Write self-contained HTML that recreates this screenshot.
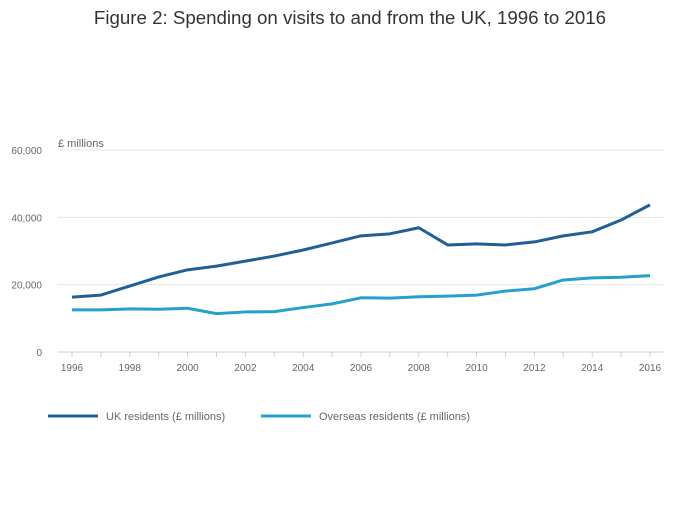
<!DOCTYPE html>
<html><head><meta charset="utf-8"><style>
body{margin:0;background:#fff;font-family:"Liberation Sans",sans-serif}
svg text{font-family:"Liberation Sans",sans-serif}
</style></head><body>
<svg width="700" height="502">
<text x="350" y="24" text-anchor="middle" font-size="18.7" fill="#333">Figure 2: Spending on visits to and from the UK, 1996 to 2016</text>
<text x="58" y="147" font-size="11" fill="#666">£ millions</text>
<g id="grid"></g><g id="xaxis"></g><g id="lines"></g>
<g>
<line x1="48" y1="416" x2="98" y2="416" stroke="#206095" stroke-width="3"/>
<text x="106" y="420" font-size="11" fill="#666">UK residents (£ millions)</text>
<line x1="261" y1="416" x2="311" y2="416" stroke="#27a0cc" stroke-width="3"/>
<text x="319" y="420" font-size="11" fill="#666">Overseas residents (£ millions)</text>
</g>
</svg>
<script>
const years=[1996,1997,1998,1999,2000,2001,2002,2003,2004,2005,2006,2007,2008,2009,2010,2011,2012,2013,2014,2015,2016];
const ukResidents=[16300,16900,19600,22300,24400,25500,27000,28500,30300,32400,34500,35100,36900,31800,32100,31800,32700,34500,35700,39200,43700];
const overseasResidents=[12500,12500,12800,12700,13000,11400,11900,12000,13200,14300,16100,16000,16400,16600,16900,18100,18800,21400,22000,22200,22700];
const yTicks=[0,20000,40000,60000];
const ns="http://www.w3.org/2000/svg";
const x=v=>72+(v-1996)*(650-72)/20;
const y=v=>352-v*(352-150)/60000;
function mk(tag,attrs,parent){const e=document.createElementNS(ns,tag);for(const k in attrs)e.setAttribute(k,attrs[k]);parent.appendChild(e);return e;}
const grid=document.getElementById('grid');
yTicks.forEach(t=>{
 const l=mk('line',{x1:58,x2:665,y1:y(t),y2:y(t),stroke:t===0?'#ccd':'#e6e6e6'},grid);
 
 
 const tx=mk('text',{x:42,y:y(t)+4,'text-anchor':'end','font-size':10,fill:'#666'},grid);
 tx.textContent=t.toLocaleString('en-GB');
 
 
});
const xa=document.getElementById('xaxis');
years.forEach(yr=>{
 const l=mk('line',{x1:x(yr),x2:x(yr),y1:352,y2:357,stroke:'#ccd'},xa);
 
 
 if(yr%2===0){const t=mk('text',{x:x(yr),y:371,'text-anchor':'middle','font-size':10,fill:'#666'},xa);
 t.textContent=yr;
 
 }
});
const lines=document.getElementById('lines');
[[ukResidents,'#206095','line-uk-residents'],[overseasResidents,'#27a0cc','line-overseas-residents']].forEach(([d,c,n])=>{
 const p=mk('path',{d:d.map((v,i)=>(i?'L':'M')+x(years[i])+','+y(v)).join(''),fill:'none',stroke:c,'stroke-width':3,'stroke-linejoin':'round'},lines);
 
 
});
</script>
</body></html>
